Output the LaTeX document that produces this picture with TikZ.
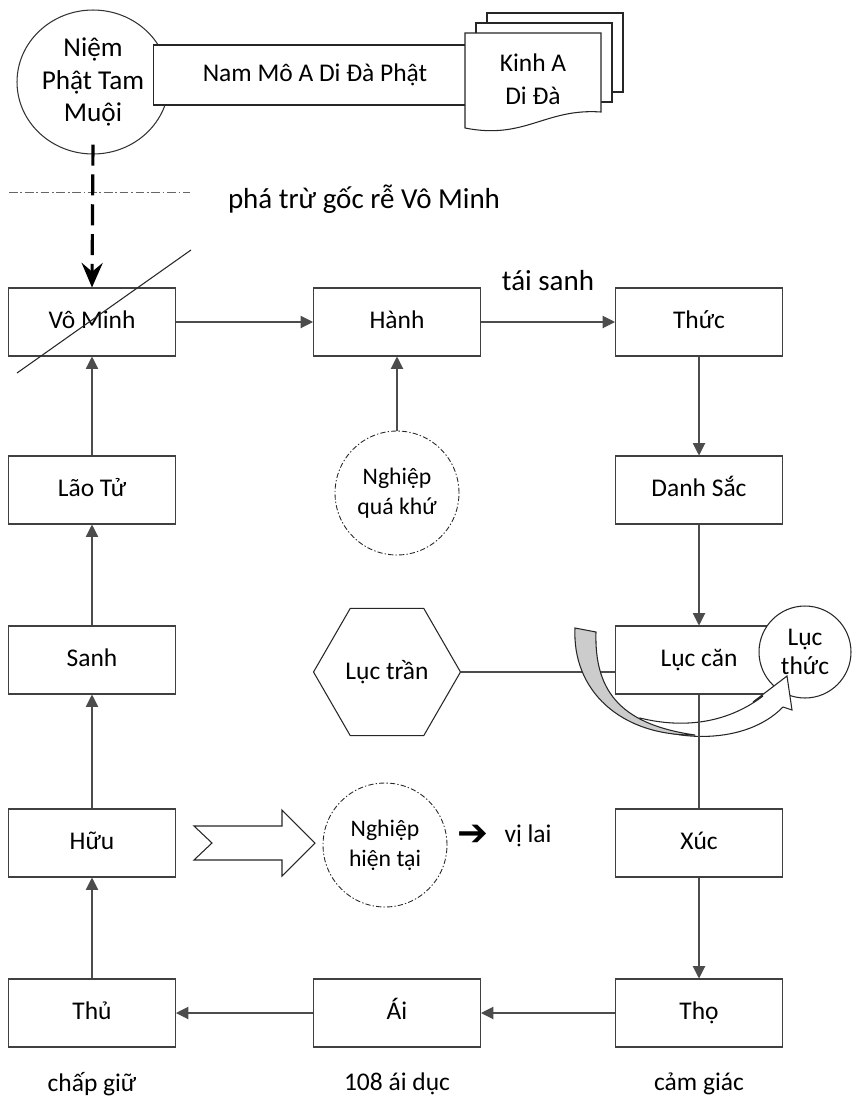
\documentclass[tikz,border=0pt]{standalone}
\usepackage{fontspec}
\setmainfont{Carlito}
\newfontfamily\symfont{DejaVu Sans}
\usetikzlibrary{arrows.meta,shapes.geometric}
\tikzset{
  box/.style={draw=black!75,fill=white,minimum width=3.34cm,minimum height=1.36cm,inner sep=0pt,text height=10pt,text depth=3pt},
  flow/.style={draw=black!70,-{Triangle[length=7pt,width=7pt]}},
  plain/.style={draw=black!70},
  karma/.style={circle,draw=black!85,line width=0.5pt,dash pattern=on 3pt off 1.2pt on 0.8pt off 1.2pt,
    minimum size=2.48cm,align=center,inner sep=0pt,font=\fontsize{13.5}{17}\selectfont},
  page/.style={draw=black!85,fill=white},
  note/.style={font=\fontsize{16.5}{20}\selectfont},
}
\begin{document}
\begin{tikzpicture}[x=0.02cm,y=-0.02cm,line width=0.6pt,font=\fontsize{14.5}{18.5}\selectfont]
  \useasboundingbox (0,0) rectangle (856,1096);
  \node[ellipse,draw=black!80,minimum width=3.04cm,minimum height=2.88cm,align=center,inner sep=0pt,font=\fontsize{15.5}{18.5}\selectfont] (niem) at (93,82) {Niệm\\Phật Tam\\Muội};
  \node[draw=black!85,fill=white,minimum width=6.48cm,minimum height=1.2cm] (chant) at (315,75) {Nam Mô A Di Đà Phật};
  \foreach \dx/\dy in {22/-20,11/-10}
    \filldraw[page] (465+\dx,33+\dy) rectangle (601+\dx,112+\dy);
  \filldraw[page] (465,33) -- (601,33) -- (601,112) .. controls (545,108) and (525,140) .. (465,128) -- cycle;
  \node[align=center] (sutra) at (533,79) {Kinh A\\Di Đà};

  \coordinate (cutL) at (9,192);
  \coordinate (cutR) at (190,192);
  \draw[black!60,line width=0.5pt,dash pattern=on 5pt off 1.5pt on 1pt off 1.5pt] (cutL) -- (cutR);
  \node[note] (pha) at (364,199) {phá trừ gốc rễ Vô Minh};

  \node[box] (vm) at (92,322) {Vô Minh};
  \node[box] (hanh) at (397,322) {Hành};
  \node[box] (thuc) at (699,322) {Thức};
  \node[box] (ds) at (699,490) {Danh Sắc};
  \node[box] (lc) at (699,660) {Lục căn};
  \node[box] (xuc) at (699,843) {Xúc};
  \node[box] (tho) at (699,1013) {Thọ};
  \node[box] (ai) at (397,1013) {Ái};
  \node[box] (thu) at (92,1013) {Thủ};
  \node[box] (huu) at (92,843) {Hữu};
  \node[box] (sanh) at (92,660) {Sanh};
  \node[box] (lt) at (92,490) {Lão Tử};

  \node[karma] (nqk) at (397,493) {Nghiệp\\quá khứ};
  \node[karma] (nht) at (385,845) {Nghiệp\\hiện tại};
  \node[regular polygon,regular polygon sides=6,draw=black!85,minimum size=2.94cm,inner sep=0pt] (tran) at (387,672) {Lục trần};

  \draw[line width=1.8pt,dash pattern=on 12pt off 5pt,-{Stealth[length=14pt,width=12pt,inset=5pt]}] ([yshift=0.2cm]niem.south) -- (vm.north);
  \coordinate (strikeA) at (17,373);
  \coordinate (strikeB) at (191,250);
  \draw[black!85] (strikeA) -- (strikeB);

  \node[note] (taisanh) at (548,281) {tái sanh};
  \draw[flow] (vm.east) -- (hanh.west);
  \draw[flow] (hanh.east) -- (thuc.west);
  \draw[flow] (thuc) -- (ds);
  \draw[flow] (ds) -- (lc);
  \draw[flow] (nqk) -- (hanh);
  \draw[flow] (xuc) -- (tho);
  \draw[flow] (tho) -- (ai);
  \draw[flow] (ai) -- (thu);
  \draw[flow] (thu) -- (huu);
  \draw[flow] (huu) -- (sanh);
  \draw[flow] (sanh) -- (lt);
  \draw[flow] (lt) -- (vm);
  \draw[plain] (tran.east) -- (tran.east -| lc.west);

  \node[circle,draw=black!85,fill=white,minimum size=1.84cm,inner sep=0pt,align=center,font=\fontsize{14.5}{16.5}\selectfont] (ltc) at (805,652) {Lục\\thức};
  \filldraw[page] (640,722) .. controls (672,741) and (745,746) .. (783,707) -- (792,710) -- (787,676) -- (753,702) -- (763,696) .. controls (725,725) and (680,728) .. (640,718) -- cycle;
  \filldraw[draw=black!85,fill=black!20] (575,628) -- (596,632) .. controls (594,695) and (625,725) .. (695,735) .. controls (620,736) and (572,690) .. (575,628) -- cycle;
  \draw[plain] (lc) -- (xuc);

  \filldraw[page] (194,826) -- (282,826) -- (282,810) -- (315,843) -- (282,876) -- (282,860) -- (194,860) -- (212,843) -- cycle;
  \node[font=\symfont\bfseries\fontsize{21}{23}\selectfont] (next) at (473,835) {➔};
  \node (vilai) at (528,836) {vị lai};

  \node (chap) at (92,1084) {chấp giữ};
  \node (ai108) at (397,1084) {108 ái dục};
  \node (camgiac) at (699,1084) {cảm giác};
\end{tikzpicture}
\end{document}
